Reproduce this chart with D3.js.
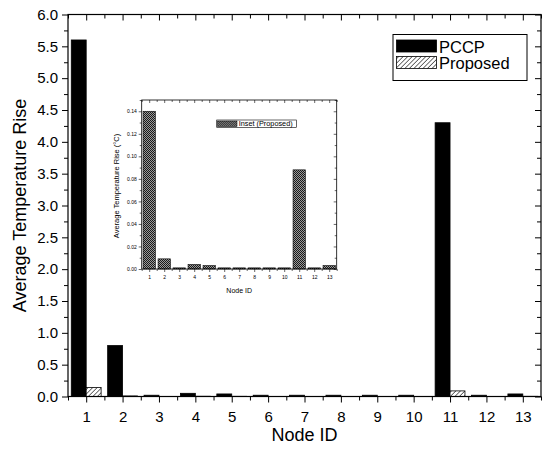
<!DOCTYPE html>
<html>
<head>
<meta charset="utf-8">
<script src="https://cdn.jsdelivr.net/npm/d3@7"></script>
<style>
    body { margin: 0; background: #fff; }
    text { font-family: "Liberation Sans", Arial, sans-serif; fill: #000; }
</style>
</head>
<body>
<div id="chartcontainer"></div>
<script>
// Chart data
var nodeIDs = [1, 2, 3, 4, 5, 6, 7, 8, 9, 10, 11, 12, 13];
var pccpRise = [5.6, 0.8, 0.02, 0.05, 0.04, 0.02, 0.02, 0.02, 0.02, 0.02, 4.3, 0.02, 0.04];
var proposedRise = [0.14, 0.009, 0.001, 0.004, 0.003, 0.001, 0.001, 0.001, 0.001, 0.001, 0.088, 0.001, 0.003];
var mainYTicks = [0, 0.5, 1, 1.5, 2, 2.5, 3, 3.5, 4, 4.5, 5, 5.5, 6];
var insetYTicks = [0, 0.02, 0.04, 0.06, 0.08, 0.10, 0.12, 0.14];
var seriesNames = ["PCCP", "Proposed"];

function TemperatureChart() {

    /*global d3 */

    var width = 542,
        height = 451,
        svg;

    // main plot box
    var main = { left: 68, right: 541, top: 14.5, bottom: 396.5 };
    // inset plot box
    var inset = { left: 141.7, right: 336.7, top: 100, bottom: 269 };

    var barWidth = 0.41,        // in node units, main chart (two bars per node)
        insetBarWidth = 0.82;   // in node units, inset chart

    function prepareSvg() {
        svg = d3.select("#chartcontainer")
            .append("svg")
            .attr("width", width)
            .attr("height", height);

        var defs = svg.append("defs");

        // diagonal hatch for Proposed
        var hatch = defs.append("pattern")
            .attr("id", "hatch")
            .attr("patternUnits", "userSpaceOnUse")
            .attr("width", 3.2)
            .attr("height", 3.2)
            .attr("patternTransform", "rotate(45)");
        hatch.append("rect").attr("width", 3.2).attr("height", 3.2).attr("fill", "#fff");
        hatch.append("line")
            .attr("x1", 0).attr("y1", 0).attr("x2", 0).attr("y2", 3.2)
            .attr("stroke", "#000").attr("stroke-width", 1.1);

        // checker for inset bars
        var checker = defs.append("pattern")
            .attr("id", "checker")
            .attr("patternUnits", "userSpaceOnUse")
            .attr("width", 2)
            .attr("height", 2);
        checker.append("rect").attr("width", 2).attr("height", 2).attr("fill", "#9a9a9a");
        checker.append("rect").attr("width", 1).attr("height", 1).attr("fill", "#1a1a1a");
        checker.append("rect").attr("x", 1).attr("y", 1).attr("width", 1).attr("height", 1).attr("fill", "#1a1a1a");
    }

    /**
     * Draw the four sided frame with ticks, Origin style
     */
    function drawFrame(g, x, y, box, opt) {
        var majorX = nodeIDs,
            minorX = nodeIDs.map(function (d) { return d - 0.5; }).concat([13.5]),
            minorY = opt.yTicks.slice(0, -1).map(function (d) { return d + opt.yStep / 2; });

        if (opt.yMax - opt.yTicks[opt.yTicks.length - 1] > opt.yStep / 4) {
            minorY.push(opt.yTicks[opt.yTicks.length - 1] + opt.yStep / 2);
        }

        function styleAxis(sel) {
            sel.select(".domain").remove();
            sel.selectAll("line").attr("stroke", "#000").attr("stroke-width", opt.tickStroke);
            sel.selectAll("text").style("font-size", opt.tickFont + "px")
                .style("font-family", "'Liberation Sans', Arial, sans-serif");
        }

        // bottom
        g.append("g").attr("transform", "translate(0," + box.bottom + ")")
            .call(d3.axisBottom(x).tickValues(majorX).tickSize(opt.major).tickPadding(opt.xPad).tickFormat(d3.format("d")))
            .call(styleAxis);
        g.append("g").attr("transform", "translate(0," + box.bottom + ")")
            .call(d3.axisBottom(x).tickValues(minorX).tickSize(opt.minor).tickFormat(""))
            .call(styleAxis);
        // top
        g.append("g").attr("transform", "translate(0," + box.top + ")")
            .call(d3.axisBottom(x).tickValues(majorX).tickSize(opt.major).tickFormat(""))
            .call(styleAxis);
        g.append("g").attr("transform", "translate(0," + box.top + ")")
            .call(d3.axisBottom(x).tickValues(minorX).tickSize(opt.minor).tickFormat(""))
            .call(styleAxis);
        // left
        g.append("g").attr("transform", "translate(" + box.left + ",0)")
            .call(d3.axisLeft(y).tickValues(opt.yTicks).tickSize(opt.major).tickPadding(opt.yPad).tickFormat(d3.format(opt.yFormat)))
            .call(styleAxis);
        g.append("g").attr("transform", "translate(" + box.left + ",0)")
            .call(d3.axisLeft(y).tickValues(minorY).tickSize(opt.minor).tickFormat(""))
            .call(styleAxis);
        // right
        g.append("g").attr("transform", "translate(" + box.right + ",0)")
            .call(d3.axisLeft(y).tickValues(opt.yTicks).tickSize(opt.major).tickFormat(""))
            .call(styleAxis);
        g.append("g").attr("transform", "translate(" + box.right + ",0)")
            .call(d3.axisLeft(y).tickValues(minorY).tickSize(opt.minor).tickFormat(""))
            .call(styleAxis);

        g.append("rect")
            .attr("x", box.left).attr("y", box.top)
            .attr("width", box.right - box.left).attr("height", box.bottom - box.top)
            .attr("fill", "none").attr("stroke", "#000").attr("stroke-width", opt.frameStroke);
    }

    function displayMain() {
        var x = d3.scaleLinear().domain([0.5, 13.5]).range([main.left, main.right]),
            y = d3.scaleLinear().domain([0, 6]).range([main.bottom, main.top]),
            g = svg.append("g").attr("id", "main");

        g.selectAll("rect.pccp")
            .data(pccpRise)
            .enter().append("rect")
            .attr("class", "pccp")
            .attr("x", function (d, i) { return x(nodeIDs[i] - barWidth); })
            .attr("y", function (d) { return y(d); })
            .attr("width", x(barWidth) - x(0))
            .attr("height", function (d) { return y(0) - y(d); })
            .attr("fill", "#000")
            .attr("stroke", "#000")
            .attr("stroke-width", 0.8);

        g.selectAll("rect.proposed")
            .data(proposedRise)
            .enter().append("rect")
            .attr("class", "proposed")
            .attr("x", function (d, i) { return x(nodeIDs[i]); })
            .attr("y", function (d) { return y(d); })
            .attr("width", x(barWidth) - x(0))
            .attr("height", function (d) { return y(0) - y(d); })
            .attr("fill", "url(#hatch)")
            .attr("stroke", "#000")
            .attr("stroke-width", 0.8);

        drawFrame(g, x, y, main, {
            yTicks: mainYTicks, yStep: 0.5, yMax: 6, yFormat: ".1f",
            major: 6, minor: 4, xPad: 9, yPad: 4,
            tickFont: 15, tickStroke: 1, frameStroke: 1.2
        });

        g.append("text")
            .attr("x", (main.left + main.right) / 2)
            .attr("y", 441)
            .attr("text-anchor", "middle")
            .style("font-size", "18px")
            .text("Node ID");

        g.append("text")
            .attr("transform", "translate(26," + (main.top + main.bottom) / 2 + ") rotate(-90)")
            .attr("text-anchor", "middle")
            .style("font-size", "18px")
            .text("Average Temperature Rise");

        // legend
        var legend = g.append("g").attr("transform", "translate(393,34.5)");
        legend.append("rect")
            .attr("width", 134).attr("height", 46)
            .attr("fill", "#fff").attr("stroke", "#000").attr("stroke-width", 1);
        legend.selectAll("rect.swatch")
            .data(seriesNames)
            .enter().append("rect")
            .attr("class", "swatch")
            .attr("x", 3.5)
            .attr("y", function (d, i) { return 5.5 + i * 16.5; })
            .attr("width", 40)
            .attr("height", 12)
            .attr("fill", function (d, i) { return i === 0 ? "#000" : "url(#hatch)"; })
            .attr("stroke", "#000")
            .attr("stroke-width", 0.8);
        legend.selectAll("text")
            .data(seriesNames)
            .enter().append("text")
            .attr("x", 46)
            .attr("y", function (d, i) { return 18 + i * 16.5; })
            .style("font-size", "16.5px")
            .text(function (d) { return d; });
    }

    function displayInset() {
        var x = d3.scaleLinear().domain([0.5, 13.5]).range([inset.left, inset.right]),
            y = d3.scaleLinear().domain([0, 0.15]).range([inset.bottom, inset.top]),
            g = svg.append("g").attr("id", "inset");

        g.append("rect")
            .attr("x", inset.left).attr("y", inset.top)
            .attr("width", inset.right - inset.left).attr("height", inset.bottom - inset.top)
            .attr("fill", "#fff");

        g.selectAll("rect.bar")
            .data(proposedRise)
            .enter().append("rect")
            .attr("class", "bar")
            .attr("x", function (d, i) { return x(nodeIDs[i] - insetBarWidth / 2); })
            .attr("y", function (d) { return y(d); })
            .attr("width", x(insetBarWidth) - x(0))
            .attr("height", function (d) { return y(0) - y(d); })
            .attr("fill", "url(#checker)")
            .attr("stroke", "#000")
            .attr("stroke-width", 0.6);

        drawFrame(g, x, y, inset, {
            yTicks: insetYTicks, yStep: 0.02, yMax: 0.15, yFormat: ".2f",
            major: 3, minor: 2, xPad: 3, yPad: 2,
            tickFont: 5, tickStroke: 0.6, frameStroke: 0.8
        });

        g.append("text")
            .attr("x", (inset.left + inset.right) / 2)
            .attr("y", 293)
            .attr("text-anchor", "middle")
            .style("font-size", "7px")
            .text("Node ID");

        g.append("text")
            .attr("transform", "translate(119," + 186 + ") rotate(-90)")
            .attr("text-anchor", "middle")
            .style("font-size", "7.5px")
            .text("Average Temperature Rise (\u00B0C)");

        var legend = g.append("g").attr("transform", "translate(216.7,120)");
        legend.append("rect")
            .attr("width", 80).attr("height", 7.5)
            .attr("fill", "#fff").attr("stroke", "#000").attr("stroke-width", 0.6);
        legend.append("rect")
            .attr("x", 0.8).attr("y", 1)
            .attr("width", 19.5).attr("height", 5.5)
            .attr("fill", "url(#checker)").attr("stroke", "#000").attr("stroke-width", 0.5);
        legend.append("text")
            .attr("x", 22)
            .attr("y", 6.3)
            .style("font-size", "7.3px")
            .text("Inset (Proposed)");
    }

    prepareSvg();
    displayMain();
    displayInset();
}

TemperatureChart();
</script>
</body>
</html>
